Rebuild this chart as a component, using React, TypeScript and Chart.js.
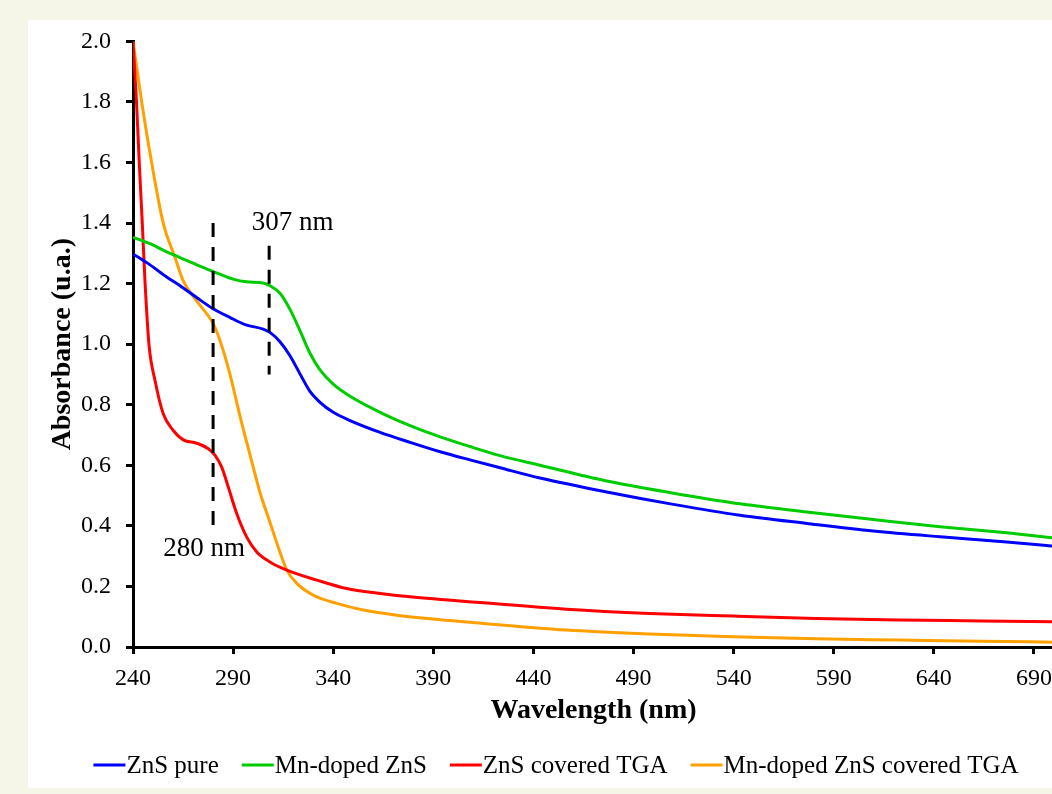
import { useEffect, useRef } from "react";
import { Chart, registerables } from "chart.js";

Chart.register(...registerables);

const FONT = "'Liberation Serif', 'Times New Roman', serif";

const xTicks = [240, 290, 340, 390, 440, 490, 540, 590, 640, 690];
const yTicks = [0, 0.2, 0.4, 0.6, 0.8, 1.0, 1.2, 1.4, 1.6, 1.8, 2.0];

const seriesNames = ["ZnS pure", "Mn-doped ZnS", "ZnS covered TGA", "Mn-doped ZnS covered TGA"];
const seriesColors = ["#0000ff", "#00cc00", "#ff0000", "#ffa000"];

// ZnS pure
const pureNm = [240, 248.5, 256.8, 263.5, 271.8, 280, 288.5, 296.4, 305, 308.4, 313.4, 318.4, 323.4, 328.4, 333.4, 340, 348.4, 363.4, 378.4, 393.4, 408.3, 423.3, 443.3, 476.6, 509.9, 543.2, 576.5, 609.8, 643.1, 676.4, 700];
const pureAbs = [1.298, 1.262, 1.222, 1.193, 1.154, 1.117, 1.088, 1.064, 1.05, 1.039, 1.008, 0.962, 0.902, 0.844, 0.808, 0.775, 0.748, 0.709, 0.676, 0.645, 0.618, 0.592, 0.558, 0.512, 0.471, 0.435, 0.408, 0.383, 0.364, 0.347, 0.333];

// Mn-doped ZnS
const mnNm = [240, 248.5, 256.8, 263.5, 271.8, 280.1, 290, 296.7, 305, 308.4, 313.4, 318.4, 323.4, 328.4, 333.4, 340, 348.4, 363.4, 378.4, 393.4, 408.3, 423.3, 443.3, 476.6, 509.9, 543.2, 576.5, 609.8, 643.1, 676.4, 700];
const mnAbs = [1.353, 1.332, 1.305, 1.286, 1.262, 1.24, 1.215, 1.206, 1.202, 1.193, 1.168, 1.115, 1.045, 0.97, 0.915, 0.868, 0.828, 0.775, 0.731, 0.694, 0.662, 0.632, 0.6, 0.548, 0.508, 0.473, 0.446, 0.421, 0.397, 0.377, 0.36];

// ZnS covered TGA
const tgaNm = [240, 241.75, 243.15, 244.65, 246, 248, 251, 255.1, 260.1, 265.1, 271.8, 277.6, 281, 284.3, 287.6, 291.8, 296.8, 301.8, 308.4, 316.8, 331.8, 346.7, 363.4, 378.4, 414.9, 456.4, 498, 539.5, 581.1, 622.6, 664.1, 700];
const tgaAbs = [2.0, 1.8, 1.596, 1.398, 1.206, 0.998, 0.88, 0.77, 0.715, 0.684, 0.673, 0.655, 0.633, 0.594, 0.528, 0.441, 0.363, 0.314, 0.281, 0.254, 0.221, 0.193, 0.177, 0.166, 0.146, 0.125, 0.111, 0.102, 0.094, 0.089, 0.086, 0.083];

// Mn-doped ZnS covered TGA
const mnTgaNm = [240, 244.35, 249.3, 255.1, 261, 265.1, 271.8, 280.1, 283.5, 288.5, 293.5, 298.5, 303.4, 308.4, 313.4, 316.8, 321.8, 330.1, 341.8, 355, 371.7, 414.9, 456.4, 498, 539.5, 581.1, 622.6, 664.1, 700];
const mnTgaAbs = [2.0, 1.8, 1.6, 1.4, 1.286, 1.209, 1.143, 1.067, 1.011, 0.899, 0.761, 0.633, 0.511, 0.412, 0.313, 0.254, 0.21, 0.171, 0.144, 0.122, 0.105, 0.078, 0.056, 0.043, 0.034, 0.027, 0.023, 0.019, 0.016];

// dashed markers
const markerNm = [280, 308];
const markerTop = [1.4, 1.325];
const markerBottom = [0.385, 0.9];

// annotation labels
const noteTexts = ["307 nm", "280 nm"];
const noteNm = [319.7, 275.5];
const noteAbs = [1.4, 0.325];

const toPoints = (xs: number[], ys: number[]) => xs.map((x, i) => ({ x, y: ys[i] }));

const notesPlugin = {
  id: "notes",
  afterDatasetsDraw(chart: any) {
    const { ctx, scales } = chart;
    ctx.save();
    ctx.font = `27px ${FONT}`;
    ctx.fillStyle = "#000";
    ctx.textAlign = "center";
    ctx.textBaseline = "middle";
    noteTexts.forEach((t, i) => {
      ctx.fillText(t, scales.x.getPixelForValue(noteNm[i]), scales.y.getPixelForValue(noteAbs[i]));
    });
    ctx.restore();
  },
};

const legendPlugin = {
  id: "customLegend",
  afterDraw(chart: any) {
    const { ctx } = chart;
    ctx.save();
    ctx.font = `25px ${FONT}`;
    const swatch = 32;
    const gapText = 1;
    const gapItem = 23;
    const widths = seriesNames.map((n) => swatch + gapText + ctx.measureText(n).width);
    const total = widths.reduce((a, b) => a + b, 0) + gapItem * (seriesNames.length - 1);
    let x = chart.width / 2 - total / 2;
    const y = chart.chartArea.bottom + 118;
    ctx.textBaseline = "middle";
    ctx.textAlign = "left";
    seriesNames.forEach((n, i) => {
      ctx.strokeStyle = seriesColors[i];
      ctx.lineWidth = 3;
      ctx.beginPath();
      ctx.moveTo(x, y);
      ctx.lineTo(x + swatch, y);
      ctx.stroke();
      ctx.fillStyle = "#000";
      ctx.fillText(n, x + swatch + gapText, y + 1);
      x += widths[i] + gapItem;
    });
    ctx.restore();
  },
};

export default function App() {
  const ref = useRef<HTMLCanvasElement>(null);

  useEffect(() => {
    document.body.style.margin = "0";
    const seriesData = [
      toPoints(pureNm, pureAbs),
      toPoints(mnNm, mnAbs),
      toPoints(tgaNm, tgaAbs),
      toPoints(mnTgaNm, mnTgaAbs),
    ];
    const markerSets = markerNm.map((nm, i) => ({
      data: [
        { x: nm, y: markerTop[i] },
        { x: nm, y: markerBottom[i] },
      ],
      borderColor: "#000",
      borderWidth: 3,
      borderDash: [14, 10],
      pointRadius: 0,
      tension: 0,
      fill: false,
    }));
    const curveSets = seriesData.map((d, i) => ({
      label: seriesNames[i],
      data: d,
      borderColor: seriesColors[i],
      borderWidth: 3,
      pointRadius: 0,
      cubicInterpolationMode: "monotone" as const,
      fill: false,
    }));

    const chart = new Chart(ref.current!, {
      type: "line",
      data: { datasets: [...markerSets, ...curveSets] as any },
      options: {
        animation: false,
        responsive: false,
        devicePixelRatio: 1,
        layout: { padding: { left: 0, top: 12, right: 30, bottom: 0 } },
        plugins: { legend: { display: false }, tooltip: { enabled: false } },
        scales: {
          x: {
            type: "linear",
            min: 240,
            max: 700,
            afterBuildTicks: (s: any) => {
              s.ticks = xTicks.map((v) => ({ value: v }));
            },
            afterFit: (s: any) => {
              s.height = 141;
            },
            grid: { display: true, drawOnChartArea: false, drawTicks: true, tickLength: 7, tickWidth: 3, tickColor: "#000" },
            border: { display: true, color: "#000", width: 3 },
            ticks: {
              color: "#000",
              font: { family: FONT, size: 24 },
              padding: 10,
              maxRotation: 0,
              autoSkip: false,
              callback: (v: any) => String(v),
            },
            title: {
              display: true,
              text: "Wavelength (nm)",
              color: "#000",
              font: { family: FONT, size: 28, weight: "bold", lineHeight: 1.2 },
              padding: { top: 0, bottom: 60 },
            },
          },
          y: {
            type: "linear",
            min: 0,
            max: 2,
            afterBuildTicks: (s: any) => {
              s.ticks = yTicks.map((v) => ({ value: v }));
            },
            afterFit: (s: any) => {
              s.width = 105;
            },
            grid: { display: true, drawOnChartArea: false, drawTicks: true, tickLength: 7, tickWidth: 3, tickColor: "#000" },
            border: { display: true, color: "#000", width: 3 },
            ticks: {
              color: "#000",
              font: { family: FONT, size: 24 },
              padding: 15,
              callback: (v: any) => Number(v).toFixed(1),
            },
            title: {
              display: true,
              text: "Absorbance (u.a.)",
              color: "#000",
              font: { family: FONT, size: 28, weight: "bold", lineHeight: 1.2 },
              padding: { top: 18, bottom: 0 },
            },
          },
        },
      },
      plugins: [notesPlugin, legendPlugin],
    });
    return () => chart.destroy();
  }, []);

  return (
    <div style={{ position: "relative", width: 1052, height: 794, overflow: "hidden", background: "#f5f5e8" }}>
      <div style={{ position: "absolute", left: 28, top: 20, width: 1056, height: 768, background: "#ffffff" }} />
      <canvas
        ref={ref}
        width={1056}
        height={776}
        style={{ position: "absolute", left: 28, top: 12, display: "block", width: 1056, height: 776 }}
      />
    </div>
  );
}
